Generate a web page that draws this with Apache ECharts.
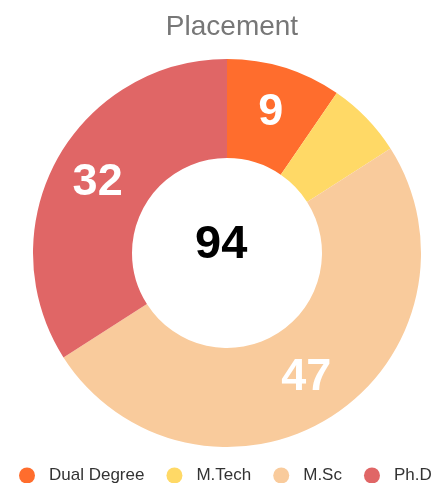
<!DOCTYPE html>
<html>
<head>
<meta charset="utf-8">
<script src="https://cdn.jsdelivr.net/npm/echarts@6/dist/echarts.min.js"></script>
<style>
  html, body { margin: 0; padding: 0; background: #fff; }
  #chart { width: 436px; height: 483px; }
</style>
</head>
<body>
<div id="chart"></div>
<script>
const categories = ['Dual Degree', 'M.Tech', 'M.Sc', 'Ph.D']
const values = [9, 6, 47, 32]
const colors = ['#ff6d2d', '#ffd966', '#f9cb9c', '#e06666']

const font = '"Liberation Sans", Arial, sans-serif'
const total = values.reduce((a, b) => a + b, 0)

const chart = echarts.init(document.getElementById('chart'))

const data = categories.map((name, i) => ({
  name: name,
  value: values[i],
  itemStyle: { color: colors[i] },
  // small slices get no label
  label: { show: values[i] >= 8 },
}))

const option = {
  animation: false,
  title: {
    text: 'Placement',
    left: 227,
    top: 8,
    textAlign: 'center',
    textStyle: {
      fontFamily: font,
      fontSize: 28,
      fontWeight: 'normal',
      color: '#777777',
    },
  },
  legend: {
    data: categories,
    top: 467,
    left: 19,
    padding: 0,
    icon: 'circle',
    itemWidth: 16,
    itemHeight: 16,
    itemGap: 22,
    textStyle: {
      fontFamily: font,
      fontSize: 17,
      color: '#333333',
      padding: [0, 0, 0, 9],
    },
  },
  graphic: [{
    type: 'text',
    left: 195,
    top: 222,
    style: {
      text: String(total),
      fontFamily: font,
      fontSize: 47,
      fontWeight: 'bold',
      fill: '#000000',
    },
  }],
  series: [{
    type: 'pie',
    center: [227, 253],
    radius: [95, 194],
    startAngle: 90,
    clockwise: true,
    avoidLabelOverlap: false,
    label: {
      position: 'inside',
      formatter: '{c}',
      fontFamily: font,
      fontSize: 45,
      fontWeight: 'bold',
      color: '#ffffff',
    },
    labelLine: { show: false },
    emphasis: { disabled: true },
    data: data,
  }],
}

chart.setOption(option)
</script>
</body>
</html>
